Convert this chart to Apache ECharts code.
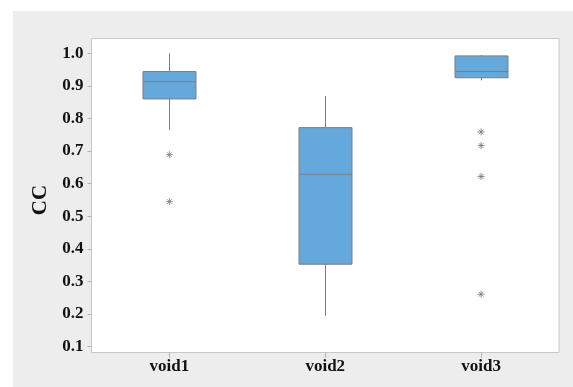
<!DOCTYPE html>
<html><head><meta charset="utf-8">
<script src="https://cdn.jsdelivr.net/npm/echarts@6/dist/echarts.min.js"></script>
<style>html,body{margin:0;padding:0;background:#fff}#c{width:573px;height:387px}</style>
</head><body><div id="c"></div>
<script>
const categories = ['void1', 'void2', 'void3'];
const boxMin    = [0.765, 0.195, 0.917];
const boxQ1     = [0.860, 0.353, 0.925];
const boxMedian = [0.913, 0.629, 0.944];
const boxQ3     = [0.944, 0.772, 0.992];
const boxMax    = [1.000, 0.869, 0.995];
const outlierCats   = ['void1', 'void1', 'void3', 'void3', 'void3', 'void3'];
const outlierValues = [0.689, 0.545, 0.759, 0.717, 0.622, 0.261];
const yMin = 0.1, yMax = 1.0, yStep = 0.1;

const FONT = '"Liberation Serif", "Times New Roman", serif';
const EDGE = '#c8c8c8';
const LINE = '#7d7d7d';

const chart = echarts.init(document.getElementById('c'));
chart.setOption({
  backgroundColor: '#ffffff',
  animation: false,
  graphic: [
    { type: 'rect', z: -10, shape: { x: 13, y: 11, width: 560, height: 376 }, style: { fill: '#ededed' } },
    { type: 'rect', z: -9, shape: { x: 91.5, y: 38.5, width: 467.5, height: 314 }, style: { fill: '#ffffff', stroke: EDGE, lineWidth: 1 } }
  ],
  grid: { left: 91.5, right: 14, top: 53.3, bottom: 40.3 },
  xAxis: {
    type: 'category',
    data: categories,
    boundaryGap: true,
    offset: 6,
    axisLine: { show: false },
    axisTick: { show: true, alignWithLabel: true, length: 5, lineStyle: { color: '#b4b4b4' } },
    axisLabel: { margin: 5, fontFamily: FONT, fontWeight: 'bold', fontSize: 17, color: '#111' },
    splitLine: { show: false }
  },
  yAxis: {
    type: 'value',
    min: yMin, max: yMax, interval: yStep,
    name: 'CC',
    nameLocation: 'middle',
    nameGap: 40,
    nameTextStyle: { fontFamily: FONT, fontWeight: 'bold', fontSize: 21, color: '#111' },
    axisLine: { show: false },
    axisTick: { show: true, length: 4, lineStyle: { color: '#b4b4b4' } },
    axisLabel: { margin: 8, fontFamily: FONT, fontWeight: 'bold', fontSize: 17, color: '#111',
      formatter: v => v.toFixed(1) },
    splitLine: { show: false }
  },
  series: [
    {
      type: 'custom',
      data: categories.map((c, i) => [i, boxMin[i], boxQ1[i], boxMedian[i], boxQ3[i], boxMax[i]]),
      encode: { x: 0, y: [1, 2, 3, 4, 5] },
      renderItem: function (params, api) {
        const x = api.value(0);
        const pMin = api.coord([x, api.value(1)]);
        const pQ1 = api.coord([x, api.value(2)]);
        const pMed = api.coord([x, api.value(3)]);
        const pQ3 = api.coord([x, api.value(4)]);
        const pMax = api.coord([x, api.value(5)]);
        const cx = Math.round(pMed[0]) + 0.5;
        const halfW = api.size([1, 0])[0] * 0.34 / 2;
        const ls = { stroke: LINE, lineWidth: 1 };
        return {
          type: 'group',
          children: [
            { type: 'line', shape: { x1: cx, y1: pMax[1], x2: cx, y2: pQ3[1] }, style: ls },
            { type: 'line', shape: { x1: cx, y1: pQ1[1], x2: cx, y2: pMin[1] }, style: ls },
            { type: 'rect', shape: { x: cx - halfW, y: pQ3[1], width: 2 * halfW, height: pQ1[1] - pQ3[1] },
              style: { fill: '#65a8dc', stroke: LINE, lineWidth: 1 } },
            { type: 'line', shape: { x1: cx - halfW, y1: pMed[1], x2: cx + halfW, y2: pMed[1] }, style: ls }
          ]
        };
      }
    },
    {
      type: 'scatter',
      data: outlierCats.map((c, i) => [c, outlierValues[i]]),
      symbol: 'path://M5,0L5,10M0,5L10,5M1.6,1.6L8.4,8.4M1.6,8.4L8.4,1.6',
      symbolSize: 7,
      itemStyle: { color: 'transparent', borderColor: '#777777', borderWidth: 1 }
    }
  ]
});
</script></body></html>
